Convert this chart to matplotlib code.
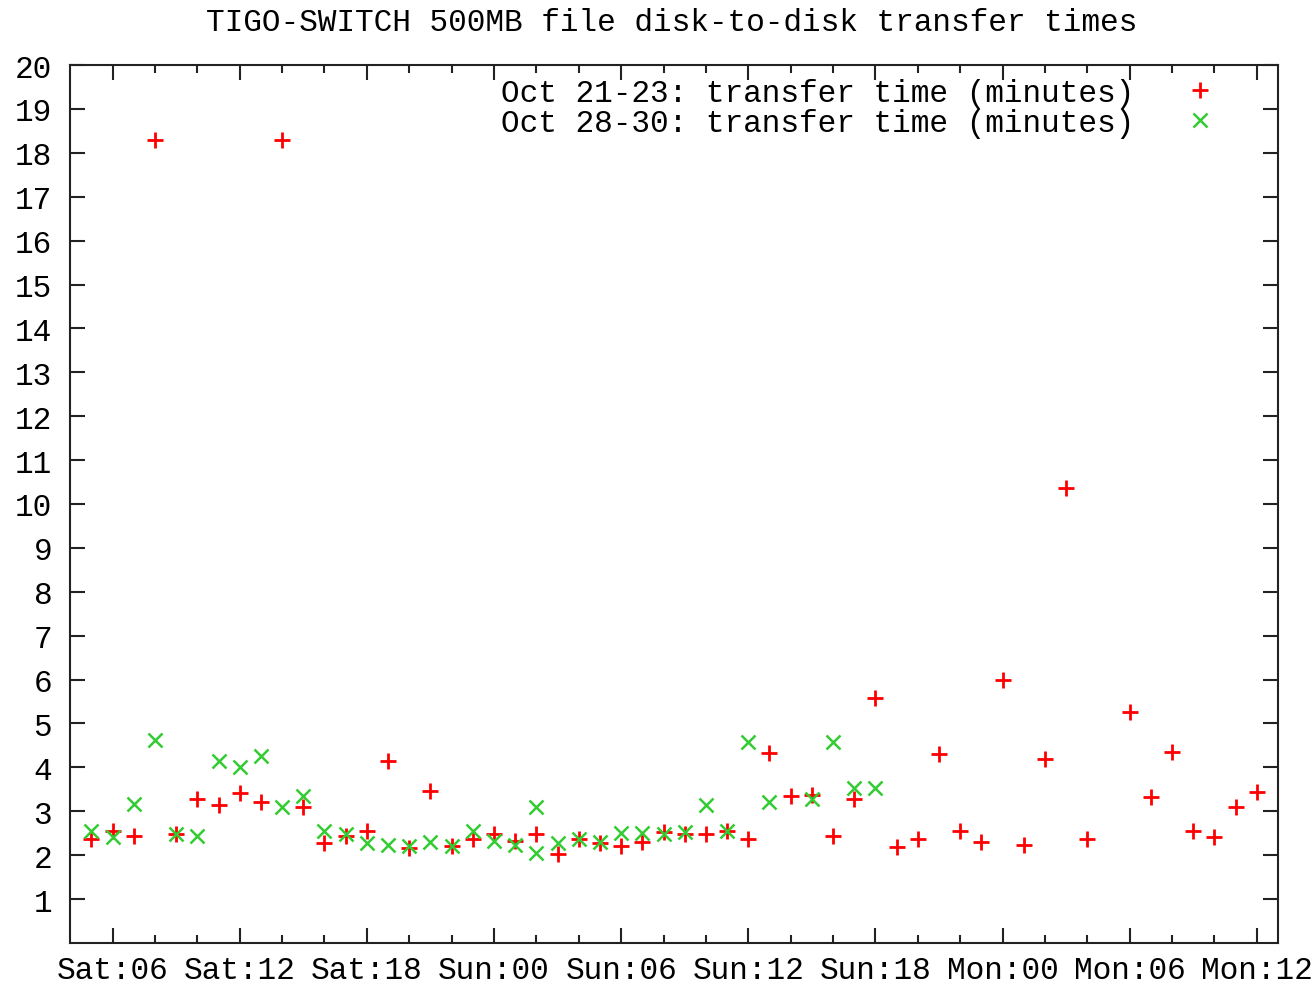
import matplotlib
matplotlib.use("Agg")
import matplotlib.pyplot as plt

# hours counted from Sat 00:00
hours_21 = [5, 6, 7, 8, 9, 10, 11, 12, 13, 14, 15, 16, 17, 18, 19, 20, 21, 22, 23, 24,
            25, 26, 27, 28, 29, 30, 31, 32, 33, 34, 35, 36, 37, 38, 39, 40, 41, 42, 43, 44,
            45, 46, 47, 48, 49, 50, 51, 52, 54, 55, 56, 57, 58, 59, 60]
times_21 = [2.37, 2.54, 2.44, 18.3, 2.49, 3.28, 3.15, 3.41, 3.22, 18.3, 3.10, 2.28, 2.44, 2.55,
            4.15, 2.17, 3.46, 2.22, 2.37, 2.49, 2.32, 2.49, 2.03, 2.36, 2.28, 2.22, 2.30, 2.53,
            2.49, 2.49, 2.55, 2.37, 4.32, 3.35, 3.37, 2.43, 3.27, 5.58, 2.18, 2.37, 4.30, 2.55,
            2.30, 6.00, 2.24, 4.18, 10.36, 2.36, 5.27, 3.33, 4.36, 2.55, 2.42, 3.09, 3.45]

hours_28 = [5, 6, 7, 8, 9, 10, 11, 12, 13, 14, 15, 16, 17, 18, 19, 20, 21, 22, 23, 24,
            25, 26, 26, 27, 28, 29, 30, 31, 32, 33, 34, 35, 36, 37, 39, 40, 41, 42]
times_28 = [2.55, 2.41, 3.16, 4.63, 2.49, 2.43, 4.15, 4.02, 4.27, 3.10, 3.35, 2.55, 2.49, 2.28,
            2.24, 2.22, 2.30, 2.20, 2.55, 2.32, 2.24, 3.10, 2.05, 2.27, 2.37, 2.30, 2.50, 2.50,
            2.49, 2.53, 3.15, 2.55, 4.57, 3.22, 3.28, 4.57, 3.52, 3.53]

tick_hours = [6, 12, 18, 24, 30, 36, 42, 48, 54, 60]
tick_labels = ["Sat:06", "Sat:12", "Sat:18", "Sun:00", "Sun:06",
               "Sun:12", "Sun:18", "Mon:00", "Mon:06", "Mon:12"]

plt.rcParams["font.family"] = ["Liberation Mono", "DejaVu Sans Mono"]
fs = 22.4

fig = plt.figure(figsize=(13.12, 9.87), dpi=100)
ax = fig.add_axes([0.0535, 0.0436, 0.9206, 0.8895])

ax.plot(hours_21, times_21, ls="none", marker="+", ms=12, mew=2.0, color="#ff0000",
        label="Oct 21-23: transfer time (minutes)")
ax.plot(hours_28, times_28, ls="none", marker="x", ms=10, mew=1.8, color="#33cc33",
        label="Oct 28-30: transfer time (minutes)")

ax.set_xlim(4, 61)
ax.set_ylim(0, 20)
ax.set_xticks(tick_hours)
ax.set_xticklabels(tick_labels)
ax.set_xticks(range(8, 61, 2), minor=True)
ax.set_yticks(range(1, 21))

ax.tick_params(axis="both", which="both", direction="in", top=True, right=True,
               width=1.5, color="#222222", labelsize=fs)
ax.tick_params(axis="both", which="major", length=11)
ax.tick_params(axis="x", which="minor", length=5.5)
ax.tick_params(axis="x", which="major", pad=8.5)
ax.tick_params(axis="y", which="major", pad=13)
for s in ax.spines.values():
    s.set_linewidth(1.5)
    s.set_color("#222222")

fig.text(0.512, 0.977, "TIGO-SWITCH 500MB file disk-to-disk transfer times",
         ha="center", va="center", fontsize=fs)

ax.legend(loc="upper right", bbox_to_anchor=(0.948, 0.985), markerfirst=False,
          frameon=False, fontsize=fs, handlelength=1.0, handletextpad=1.6,
          labelspacing=0.0, borderaxespad=0, borderpad=0)

fig.savefig("out.png", dpi=100)
